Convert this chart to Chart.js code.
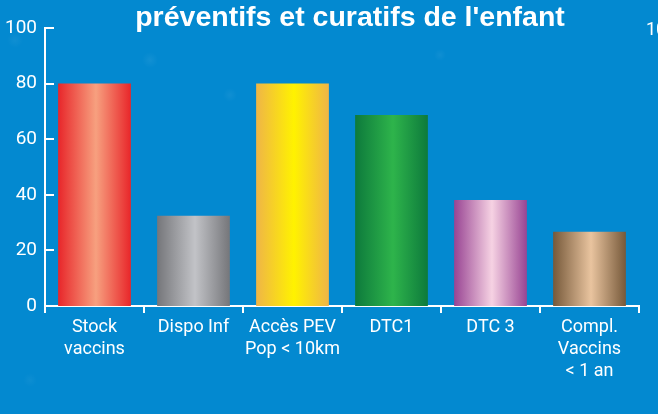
<!DOCTYPE html>
<html>
<head>
<meta charset="utf-8">
<script src="https://cdn.jsdelivr.net/npm/chart.js@4/dist/chart.umd.min.js"></script>
<style>
	html, body { margin: 0; padding: 0; }
	body {
		width: 658px; height: 414px; overflow: hidden;
		background-color: #0389d0;
		background-image:
			radial-gradient(circle at 150px 60px, rgba(255,255,255,0.06) 0, rgba(255,255,255,0) 8px),
			radial-gradient(circle at 230px 95px, rgba(255,255,255,0.05) 0, rgba(255,255,255,0) 7px),
			radial-gradient(circle at 440px 55px, rgba(255,255,255,0.05) 0, rgba(255,255,255,0) 6px),
			radial-gradient(circle at 15px 40px, rgba(255,255,255,0.05) 0, rgba(255,255,255,0) 8px),
			radial-gradient(circle at 30px 380px, rgba(255,255,255,0.04) 0, rgba(255,255,255,0) 7px);
	}
	#wrap { position: relative; width: 658px; height: 414px; }
</style>
</head>
<body>
<div id="wrap"><canvas id="chart" width="658" height="414"></canvas></div>
<script>
// Chart data
const categories = [['Stock', 'vaccins'], 'Dispo Inf', ['Accès PEV', 'Pop < 10km'], 'DTC1', 'DTC 3', ['Compl.', 'Vaccins', '< 1 an']];
const values = [80, 32.5, 80, 68.7, 38.1, 26.7];
const yTicks = [0, 20, 40, 60, 80, 100];

// Bar gradients: edge colour and centre highlight colour
const edgeColours = ['#e8262a', '#75767a', '#efb547', '#0d7a3c', '#984493', '#76593a'];
const centreColours = ['#f7a07f', '#c2c3c7', '#fff200', '#2eb44b', '#f6d2e3', '#e9c49f'];

const titleText = "préventifs et curatifs de l'enfant";
const fontFamily = "Roboto, 'Liberation Sans', Arial, sans-serif";

const barPct = 0.735;

// Horizontal dark-light-dark gradient for each bar
function barGradient (context)
{
	const chart = context.chart;
	const i = context.dataIndex;
	const xScale = chart.scales.x;
	if (!chart.chartArea || !xScale || i === undefined) {
		return edgeColours[i] || '#fff';
	}
	const centre = xScale.getPixelForValue(i);
	const half = (xScale.width / categories.length) * barPct / 2;
	const g = chart.ctx.createLinearGradient(centre - half, 0, centre + half, 0);
	g.addColorStop(0, edgeColours[i]);
	g.addColorStop(0.52, centreColours[i]);
	g.addColorStop(1, edgeColours[i]);
	return g;
}

// Inward ticks on the y axis, title and the clipped neighbour label
const decorations = {
	id: 'decorations',
	afterDraw (chart) {
		const ctx = chart.ctx;
		const y = chart.scales.y;
		ctx.save();
		ctx.strokeStyle = '#ffffff';
		ctx.lineWidth = 2;
		y.ticks.forEach(t => {
			const py = Math.round(y.getPixelForValue(t.value));
			ctx.beginPath();
			ctx.moveTo(chart.chartArea.left, py);
			ctx.lineTo(chart.chartArea.left + 9, py);
			ctx.stroke();
		});
		ctx.fillStyle = '#ffffff';
		ctx.font = "bold 28.5px 'Liberation Sans', Arial, sans-serif";
		ctx.textAlign = 'center';
		ctx.textBaseline = 'alphabetic';
		ctx.fillText(titleText, 350, 26);
		ctx.font = '18px ' + fontFamily;
		ctx.textAlign = 'left';
		ctx.fillText('100', 646, 35);
		ctx.restore();
	}
};

new Chart(document.getElementById('chart').getContext('2d'), {
	type: 'bar',
	data: {
		labels: categories,
		datasets: [{
			data: values,
			backgroundColor: barGradient,
			borderWidth: 0,
			categoryPercentage: 1,
			barPercentage: barPct
		}]
	},
	options: {
		responsive: false,
		animation: false,
		layout: {
			padding: { top: 28, right: 19, left: 0, bottom: 0 }
		},
		plugins: {
			legend: { display: false },
			tooltip: { enabled: false }
		},
		scales: {
			x: {
				offset: true,
				afterFit: (scale) => { scale.height = 108; },
				grid: {
					display: true,
					offset: true,
					drawOnChartArea: false,
					color: '#ffffff',
					lineWidth: 2,
					tickLength: 7
				},
				border: { display: true, color: '#ffffff', width: 2 },
				ticks: {
					color: '#ffffff',
					padding: 4,
					maxRotation: 0,
					autoSkip: false,
					font: { family: fontFamily, size: 18, lineHeight: 1.2 }
				}
			},
			y: {
				min: 0,
				max: 100,
				afterFit: (scale) => { scale.width = 45; },
				afterBuildTicks: (scale) => { scale.ticks = yTicks.map(v => ({ value: v })); },
				grid: { display: false, drawTicks: false, tickLength: 0 },
				border: { display: true, color: '#ffffff', width: 2 },
				ticks: {
					color: '#ffffff',
					padding: 8,
					font: { family: fontFamily, size: 19 }
				}
			}
		}
	},
	plugins: [decorations]
});
</script>
</body>
</html>
